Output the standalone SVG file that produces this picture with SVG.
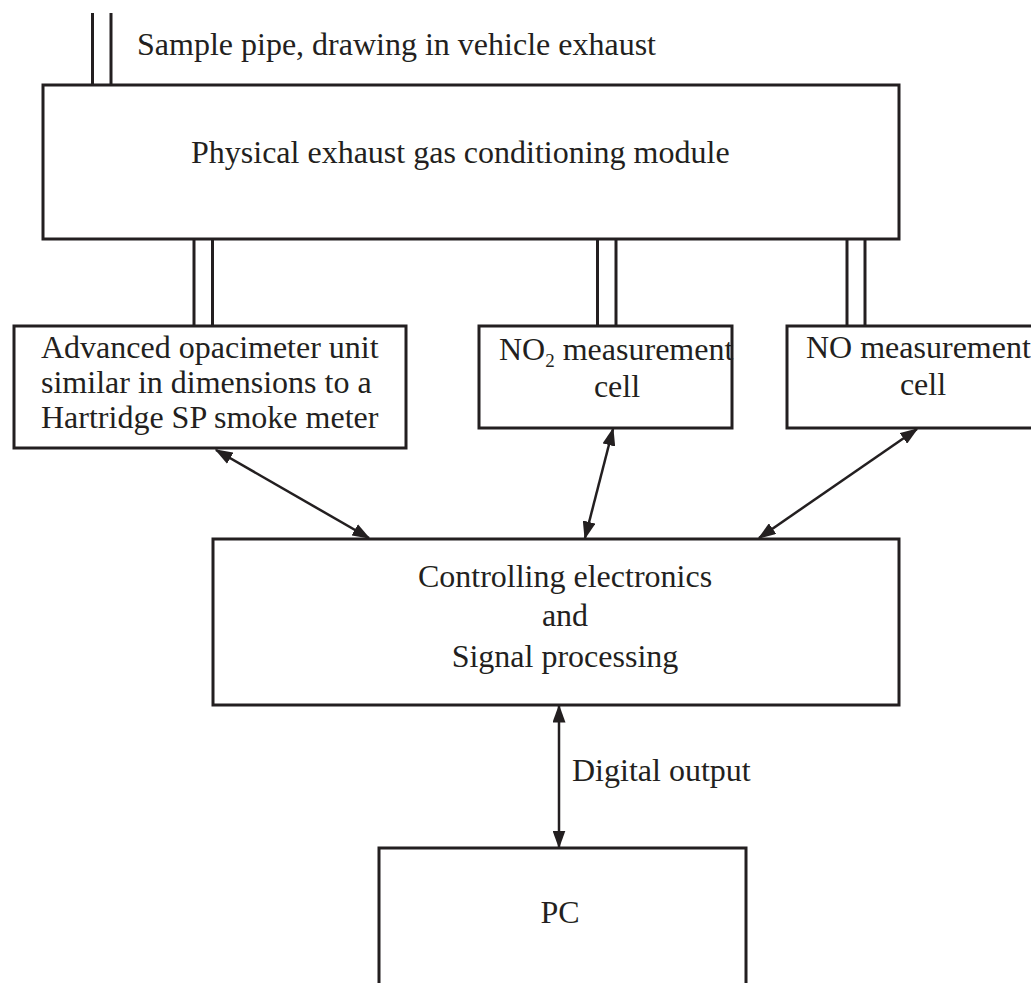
<svg xmlns="http://www.w3.org/2000/svg" width="1031" height="983" viewBox="0 0 1031 983">
<style>
.box{fill:none;stroke:#231f20;stroke-width:3}
.pipe{stroke:#231f20;stroke-width:3;fill:none}
.con{stroke:#231f20;stroke-width:2.5;fill:none;marker-start:url(#ah);marker-end:url(#ah)}
text{font-family:"Liberation Serif","Times New Roman",serif;font-size:32px;fill:#231f20}
.m{text-anchor:middle}
</style>
<defs>
<marker id="ah" viewBox="0 0 18 13" refX="16.5" refY="6.5" markerWidth="18" markerHeight="13" markerUnits="userSpaceOnUse" orient="auto-start-reverse">
<path d="M0,0 L18,6.5 L0,13 Z" fill="#231f20"/>
</marker>
</defs>
<rect width="1031" height="983" fill="#ffffff"/>
<g id="pipes">
<line class="pipe" x1="92.5" y1="13" x2="92.5" y2="85"/>
<line class="pipe" x1="111" y1="13" x2="111" y2="85"/>
<line class="pipe" x1="194" y1="239" x2="194" y2="326"/>
<line class="pipe" x1="212.5" y1="239" x2="212.5" y2="326"/>
<line class="pipe" x1="597.5" y1="239" x2="597.5" y2="326"/>
<line class="pipe" x1="616" y1="239" x2="616" y2="326"/>
<line class="pipe" x1="847" y1="239" x2="847" y2="326"/>
<line class="pipe" x1="865" y1="239" x2="865" y2="326"/>
</g>
<g id="sample-label">
<text x="137" y="55">Sample pipe, drawing in vehicle exhaust</text>
</g>
<g id="conditioning">
<rect class="box" x="43" y="85" width="856" height="154"/>
<text x="191" y="163">Physical exhaust gas conditioning module</text>
</g>
<g id="opacimeter">
<rect class="box" x="14" y="326" width="392" height="122"/>
<text x="41" y="358">Advanced opacimeter unit</text>
<text x="41" y="393">similar in dimensions to a</text>
<text x="41" y="428">Hartridge SP smoke meter</text>
</g>
<g id="no2cell">
<rect class="box" x="479" y="326" width="253" height="102"/>
<text x="499" y="360">NO<tspan font-size="19" dy="7">2</tspan><tspan dy="-7"> measurement</tspan></text>
<text class="m" x="617" y="397">cell</text>
</g>
<g id="nocell">
<rect class="box" x="787" y="326" width="280" height="102"/>
<text x="806" y="358">NO measurement</text>
<text class="m" x="923" y="395">cell</text>
</g>
<g id="controller">
<rect class="box" x="213" y="539" width="686" height="166"/>
<text class="m" x="565" y="587">Controlling electronics</text>
<text class="m" x="565" y="626">and</text>
<text class="m" x="565" y="667">Signal processing</text>
</g>
<g id="pc">
<rect class="box" x="379" y="848" width="367" height="150"/>
<text class="m" x="560" y="923">PC</text>
</g>
<g id="connectors">
<line class="con" x1="216" y1="450" x2="369" y2="538"/>
<line class="con" x1="613" y1="429" x2="585" y2="538"/>
<line class="con" x1="917" y1="429" x2="759" y2="538"/>
<line class="con" x1="559" y1="706" x2="559" y2="847"/>
<text x="572" y="781">Digital output</text>
</g>
</svg>
